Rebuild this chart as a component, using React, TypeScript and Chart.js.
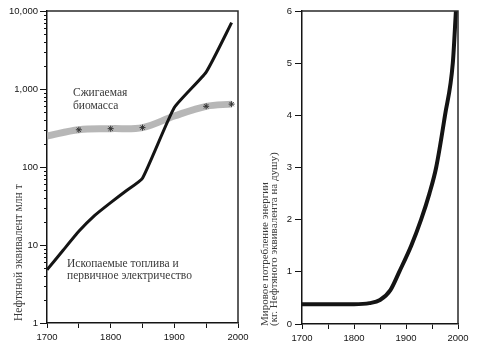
import React, { useEffect, useRef } from 'react';
import { Chart, registerables } from 'chart.js';
Chart.register(...registerables);

// ---- data ----
const fossilYears = [1700, 1725, 1750, 1775, 1800, 1825, 1850, 1900, 1950, 1990];
const fossilValues = [4.8, 8.5, 15, 24, 35, 50, 72, 580, 1650, 7100];

const biomassYears = [1700, 1750, 1800, 1850, 1900, 1950, 1990];
const biomassValues = [250, 300, 310, 320, 450, 600, 640];
const biomassMarkers = [false, true, true, true, false, true, true];

const perCapitaYears = [1700, 1800, 1830, 1850, 1870, 1887, 1910, 1929, 1945, 1958, 1975, 1990, 1996];
const perCapitaValues = [0.38, 0.38, 0.4, 0.46, 0.65, 1.0, 1.5, 2.0, 2.5, 3.0, 4.0, 5.0, 6.0];

const xTickYears = [1700, 1750, 1800, 1850, 1900, 1950, 2000];
const xLabelYears = [1700, 1800, 1900, 2000];
const logMajorTicks = [1, 10, 100, 1000, 10000];
const linearYTicks = [0, 1, 2, 3, 4, 5, 6];

const leftTitle = 'Нефтяной эквивалент млн т';
const rightTitle1 = 'Мировое потребление энергии';
const rightTitle2 = '(кг. Нефтяного эквивалента на душу)';
const biomassLabel = ['Сжигаемая', 'биомасса'];
const fossilLabel = ['Ископаемые топлива и', 'первичное электричество'];

const INK = '#141414';
const tickFont = { family: '"Liberation Sans", Arial, sans-serif', size: 9.5 };
const serif = '"Liberation Serif", "Times New Roman", serif';

function logMinorValues(): number[] {
  const out: number[] = [];
  for (let e = 0; e < 4; e++) {
    for (let s = 2; s <= 9; s++) out.push(s * Math.pow(10, e));
  }
  return out;
}

type TextItem = { text: string; x: number; y: number; rotate?: boolean; size: number; color: string };

function makeDecor(texts: TextItem[], minorY: number[] | null) {
  return {
    id: 'decor',
    afterDraw(chart: any) {
      const { ctx, chartArea } = chart;
      ctx.save();
      ctx.strokeStyle = '#2a2a2a';
      ctx.lineWidth = 1.5;
      ctx.beginPath();
      ctx.moveTo(chartArea.left, chartArea.top);
      ctx.lineTo(chartArea.right, chartArea.top);
      ctx.lineTo(chartArea.right, chartArea.bottom);
      ctx.stroke();
      if (minorY) {
        const ys = chart.scales.y;
        ctx.lineWidth = 1;
        ctx.strokeStyle = INK;
        ctx.beginPath();
        for (const v of minorY) {
          const py = Math.round(ys.getPixelForValue(v)) + 0.5;
          ctx.moveTo(chartArea.left - 3, py);
          ctx.lineTo(chartArea.left, py);
        }
        ctx.stroke();
      }
      for (const t of texts) {
        ctx.save();
        ctx.font = `${t.size}px ${serif}`;
        ctx.fillStyle = t.color;
        ctx.textAlign = 'left';
        ctx.textBaseline = 'middle';
        if (t.rotate) {
          ctx.translate(t.x, t.y);
          ctx.rotate(-Math.PI / 2);
          ctx.fillText(t.text, 0, 0);
        } else {
          ctx.fillText(t.text, t.x, t.y);
        }
        ctx.restore();
      }
      ctx.restore();
    },
  };
}

function xScale(height: number) {
  return {
    type: 'linear',
    min: 1700,
    max: 2000,
    afterBuildTicks: (s: any) => {
      s.ticks = xTickYears.map((v) => ({ value: v }));
    },
    afterFit: (s: any) => {
      s.height = height;
      s.paddingLeft = 0;
      s.paddingRight = 0;
    },
    ticks: {
      autoSkip: false,
      maxRotation: 0,
      font: tickFont,
      color: INK,
      padding: 4,
      callback: (v: number) => (xLabelYears.includes(v) ? String(v) : ''),
    },
    grid: { drawOnChartArea: false, tickLength: 5, tickColor: INK, tickWidth: 1 },
    border: { color: INK, width: 1.5 },
  };
}

function LeftChart() {
  const ref = useRef<HTMLCanvasElement>(null);
  useEffect(() => {
    const W = 255;
    const plotRight = 238;
    const texts: TextItem[] = [
      { text: biomassLabel[0], x: 73, y: 93, size: 11.5, color: '#3a3a3a' },
      { text: biomassLabel[1], x: 73, y: 106, size: 11.5, color: '#3a3a3a' },
      { text: fossilLabel[0], x: 67, y: 264, size: 11.5, color: '#3a3a3a' },
      { text: fossilLabel[1], x: 67, y: 276, size: 11.5, color: '#3a3a3a' },
      { text: leftTitle, x: 19, y: 321, rotate: true, size: 11.5, color: '#3a3a3a' },
    ];
    const chart = new Chart(ref.current as HTMLCanvasElement, {
      type: 'line',
      data: {
        datasets: [
          {
            data: fossilYears.map((x, i) => ({ x, y: fossilValues[i] })),
            borderColor: INK,
            borderWidth: 3,
            pointRadius: 0,
            tension: 0.15,
          },
          {
            data: biomassYears.map((x, i) => ({ x, y: biomassValues[i] })),
            borderColor: 'rgba(170,170,170,0.85)',
            borderWidth: 7,
            tension: 0.35,
            pointStyle: 'star',
            pointRadius: biomassMarkers.map((m) => (m ? 3 : 0)),
            pointBorderColor: '#333',
            pointBorderWidth: 1,
          },
        ],
      } as any,
      options: {
        animation: false,
        responsive: false,
        events: [],
        layout: { padding: { top: 11, right: W - plotRight, left: 0, bottom: 0 } },
        plugins: { legend: { display: false }, tooltip: { enabled: false } },
        scales: {
          x: xScale(351 - 323) as any,
          y: {
            type: 'logarithmic',
            min: 1,
            max: 10000,
            afterBuildTicks: (s: any) => {
              s.ticks = logMajorTicks.map((v) => ({ value: v }));
            },
            afterFit: (s: any) => {
              s.width = 47;
              s.paddingTop = 0;
              s.paddingBottom = 0;
            },
            ticks: {
              autoSkip: false,
              font: tickFont,
              color: INK,
              padding: 2,
              callback: (v: number) => Number(v).toLocaleString('en-US'),
            },
            grid: { drawOnChartArea: false, tickLength: 7, tickColor: INK },
            border: { color: INK, width: 1.5 },
          } as any,
        },
      },
      plugins: [makeDecor(texts, logMinorValues())],
    });
    return () => chart.destroy();
  }, []);
  return (
    <canvas
      ref={ref}
      width={255}
      height={351}
      style={{ position: 'absolute', left: 0, top: 0, width: 255, height: 351 }}
    />
  );
}

function RightChart() {
  const ref = useRef<HTMLCanvasElement>(null);
  useEffect(() => {
    const W = 229;
    const plotRight = 208;
    const texts: TextItem[] = [
      { text: rightTitle1, x: 15, y: 326, rotate: true, size: 11, color: '#3a3a3a' },
      { text: rightTitle2, x: 24, y: 326, rotate: true, size: 11, color: '#3a3a3a' },
    ];
    const chart = new Chart(ref.current as HTMLCanvasElement, {
      type: 'line',
      data: {
        datasets: [
          {
            data: perCapitaYears.map((x, i) => ({ x, y: perCapitaValues[i] })),
            borderColor: INK,
            borderWidth: 4,
            pointRadius: 0,
            cubicInterpolationMode: 'monotone',
          },
        ],
      } as any,
      options: {
        animation: false,
        responsive: false,
        events: [],
        layout: { padding: { top: 11, right: W - plotRight, left: 0, bottom: 0 } },
        plugins: { legend: { display: false }, tooltip: { enabled: false } },
        scales: {
          x: xScale(351 - 324) as any,
          y: {
            type: 'linear',
            min: 0,
            max: 6,
            afterBuildTicks: (s: any) => {
              s.ticks = linearYTicks.map((v) => ({ value: v }));
            },
            afterFit: (s: any) => {
              s.width = 52;
              s.paddingTop = 0;
              s.paddingBottom = 0;
            },
            ticks: { autoSkip: false, font: tickFont, color: INK, padding: 3 },
            grid: { drawOnChartArea: false, tickLength: 7, tickColor: INK },
            border: { color: INK, width: 1.5 },
          } as any,
        },
      },
      plugins: [makeDecor(texts, null)],
    });
    return () => chart.destroy();
  }, []);
  return (
    <canvas
      ref={ref}
      width={229}
      height={351}
      style={{ position: 'absolute', left: 250, top: 0, width: 229, height: 351 }}
    />
  );
}

export default function App() {
  useEffect(() => {
    document.body.style.margin = '0';
  }, []);
  return (
    <div style={{ position: 'absolute', left: 0, top: 0, width: 479, height: 351, background: '#fff' }}>
      <LeftChart />
      <RightChart />
    </div>
  );
}
